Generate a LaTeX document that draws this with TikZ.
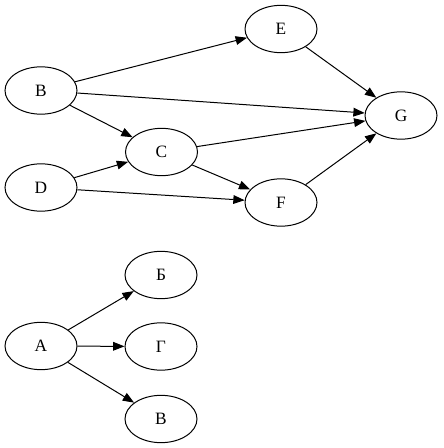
\documentclass[tikz,border=0pt]{standalone}
\usepackage{fontspec}
\setmainfont{Liberation Serif}
\usetikzlibrary{arrows.meta,shapes.geometric}
\tikzset{
  vert/.style={ellipse,draw,line width=0.75pt,minimum width=54pt,minimum height=35.5pt,inner sep=0pt,font=\fontsize{13pt}{15pt}\selectfont},
  edge/.style={line width=0.75pt,-{Triangle[length=8.5pt,width=6.5pt]}}
}
\begin{document}
\begin{tikzpicture}[x=0.75pt,y=-0.75pt]
\useasboundingbox (0,0) rectangle (443,448);
\node[vert] (E) at (281,29) {E};
\node[vert] (B) at (41,90.5) {B};
\node[vert] (G) at (401,115.5) {G};
\node[vert] (C) at (161.5,152) {C};
\node[vert] (D) at (41,187.5) {D};
\node[vert] (F) at (281,202.5) {F};
\node[vert] (Be) at (161,275) {Б};
\node[vert] (A) at (41,346) {A};
\node[vert] (Ge) at (161,346.5) {Г};
\node[vert] (Ve) at (161,419) {В};
\draw[edge] (B) -- (E);
\draw[edge] (B) -- (G);
\draw[edge] (B) -- (C);
\draw[edge] (E) -- (G);
\draw[edge] (C) -- (G);
\draw[edge] (C) -- (F);
\draw[edge] (D) -- (C);
\draw[edge] (D) -- (F);
\draw[edge] (F) -- (G);
\draw[edge] (A) -- (Be);
\draw[edge] (A) -- (Ge);
\draw[edge] (A) -- (Ve);
\end{tikzpicture}
\end{document}
